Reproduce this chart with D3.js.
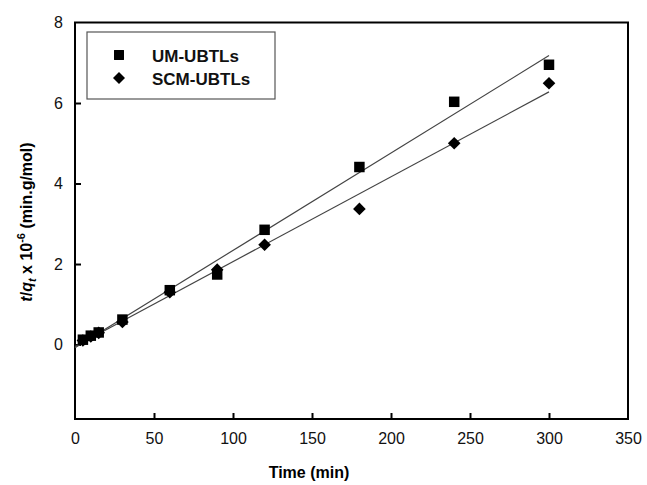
<!DOCTYPE html>
<html>
<head>
<meta charset="utf-8">
<script src="https://d3js.org/d3.v7.min.js"></script>
<style>
body { margin: 0; background: #fff; }
text { font-family: "Liberation Sans", Arial, sans-serif; }
</style>
</head>
<body>
<div id="chart"><svg width="647" height="485"></svg></div>
<script>
// values
var times = [5, 10, 15, 30, 60, 90, 120, 180, 240, 300];
var umValues = [0.12, 0.22, 0.30, 0.62, 1.35, 1.74, 2.85, 4.41, 6.03, 6.95];
var scmValues = [0.10, 0.20, 0.29, 0.56, 1.30, 1.86, 2.48, 3.37, 5.00, 6.49];
var seriesNames = ["UM-UBTLs", "SCM-UBTLs"];
var xTicks = [0, 50, 100, 150, 200, 250, 300, 350];
var yTicks = [0, 2, 4, 6, 8];

var plotLeft = 75, plotRight = 628, plotTop = 22.5, plotBottom = 419;

var svg = d3.select("#chart svg");

var x = d3.scaleLinear().domain([0, 350]).range([plotLeft, plotRight]);
var y = d3.scaleLinear().domain([-1.85, 8]).range([plotBottom, plotTop]);

// least squares fit for the trend lines
function fit(xs, ys){
	var mx = d3.mean(xs), my = d3.mean(ys);
	var sxy = 0, sxx = 0;
	for(var i=0; i<xs.length; i++){
		sxy += (xs[i]-mx)*(ys[i]-my);
		sxx += (xs[i]-mx)*(xs[i]-mx);
	}
	var slope = sxy/sxx;
	return {slope: slope, intercept: my - slope*mx};
}

var series = [
	{name: seriesNames[0], values: umValues, symbol: d3.symbolSquare, size: 110, rotate: 0},
	{name: seriesNames[1], values: scmValues, symbol: d3.symbolSquare, size: 80, rotate: 45}
];

// frame
svg.append("rect")
	.attr("x", plotLeft).attr("y", plotTop)
	.attr("width", plotRight-plotLeft).attr("height", plotBottom-plotTop)
	.attr("fill", "none").attr("stroke", "#000").attr("stroke-width", 2);

// axes, ticks pointing inward
svg.append("g")
	.attr("transform", "translate(0,"+plotBottom+")")
	.call(d3.axisBottom(x).tickValues(xTicks).tickSizeInner(-6).tickSizeOuter(0).tickPadding(14))
	.call(function(g){
		g.select(".domain").remove();
		g.selectAll(".tick line").attr("stroke-width", 2);
		g.selectAll(".tick text").attr("font-size", "16px").attr("fill", "#111");
		g.selectAll(".tick").filter(function(d){ return d == 0 || d == 350; }).select("line").remove();
	});

svg.append("g")
	.attr("transform", "translate("+plotLeft+",0)")
	.call(d3.axisLeft(y).tickValues(yTicks).tickSizeInner(-6).tickSizeOuter(0).tickPadding(12))
	.call(function(g){
		g.select(".domain").remove();
		g.selectAll(".tick line").attr("stroke-width", 2);
		g.selectAll(".tick text").attr("font-size", "16px").attr("fill", "#111");
		g.selectAll(".tick").filter(function(d){ return d == 8; }).select("line").remove();
	});

// fit lines
var line = d3.line()
	.x(function(d){ return x(d[0]); })
	.y(function(d){ return y(d[1]); });

series.forEach(function(s){
	var f = fit(times, s.values);
	var ends = [0, d3.max(times)].map(function(t){ return [t, f.intercept + f.slope*t]; });
	svg.append("path")
		.attr("d", line(ends))
		.attr("fill", "none")
		.attr("stroke", "#444")
		.attr("stroke-width", 1.2);
});

// markers
series.forEach(function(s){
	svg.append("g").selectAll("path")
		.data(s.values).enter()
		.append("path")
		.attr("d", d3.symbol().type(s.symbol).size(s.size))
		.attr("transform", function(d, i){
			return "translate("+x(times[i])+","+y(d)+") rotate("+s.rotate+")";
		})
		.attr("fill", "#000");
});

// legend
var legend = svg.append("g").attr("transform", "translate(87,32)");
legend.append("rect")
	.attr("width", 188).attr("height", 67)
	.attr("fill", "#fff").attr("stroke", "#555").attr("stroke-width", 1.2);
legend.selectAll(".item").data(series).enter()
	.append("g")
	.attr("class", "item")
	.attr("transform", function(d, i){ return "translate(0,"+(23 + i*23)+")"; })
	.each(function(d){
		var item = d3.select(this);
		item.append("path")
			.attr("d", d3.symbol().type(d.symbol).size(d.size*0.9))
			.attr("transform", "translate(32,0) rotate("+d.rotate+")")
			.attr("fill", "#000");
		item.append("text")
			.attr("x", 65).attr("y", 6.5)
			.attr("font-size", "17px").attr("font-weight", "bold")
			.attr("fill", "#111")
			.text(d.name);
	});

// axis titles
svg.append("text")
	.attr("x", 309).attr("y", 478)
	.attr("text-anchor", "middle")
	.attr("font-size", "16px").attr("font-weight", "bold")
	.text("Time (min)");

var ylab = svg.append("text")
	.attr("transform", "translate(32,222) rotate(-90)")
	.attr("text-anchor", "middle")
	.attr("font-size", "16px").attr("font-weight", "bold");
ylab.append("tspan").attr("font-style", "italic").text("t");
ylab.append("tspan").text("/");
ylab.append("tspan").attr("font-style", "italic").text("q");
ylab.append("tspan").attr("font-style", "italic").attr("font-size", "11px").attr("dy", 4).text("t");
ylab.append("tspan").attr("dy", -4).text(" x 10");
ylab.append("tspan").attr("font-size", "11px").attr("dy", -7).text("-6");
ylab.append("tspan").attr("dy", 7).text(" (min.g/mol)");
</script>
</body>
</html>
